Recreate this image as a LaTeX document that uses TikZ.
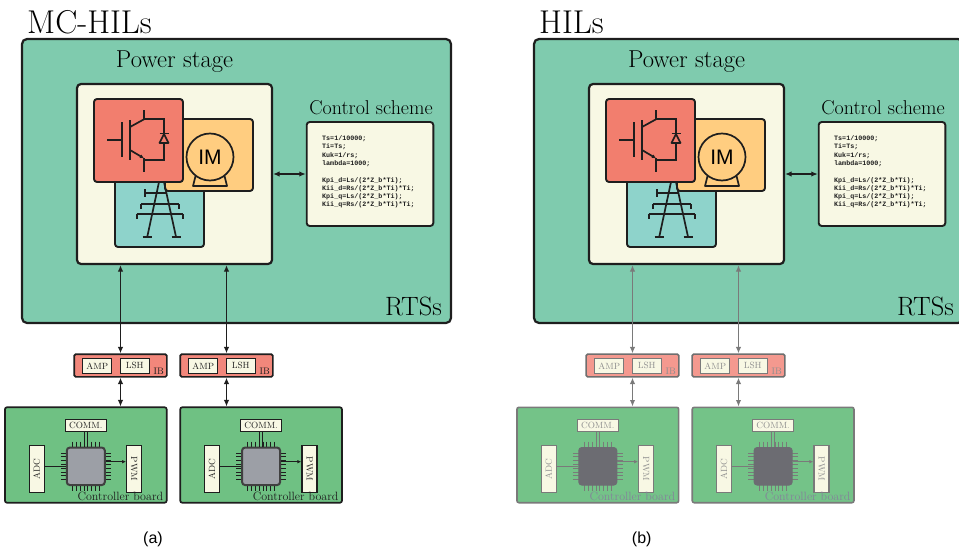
\documentclass[tikz,border=0pt]{standalone}
\usepackage{fontspec}
\usepackage{graphicx}
\usetikzlibrary{arrows.meta}
\newfontfamily\codefont{Liberation Mono}
\newfontfamily\labelfont{Liberation Sans}

\definecolor{ink}{HTML}{1E1E1E}
\definecolor{rtsfill}{HTML}{7FCBAE}
\definecolor{cream}{HTML}{F8F8E4}
\definecolor{igbtred}{HTML}{F27E6E}
\definecolor{motorfill}{HTML}{FFCD80}
\definecolor{gridfill}{HTML}{8ED3CB}
\definecolor{ibfill}{HTML}{F2877B}
\definecolor{boardfill}{HTML}{6FC183}
\definecolor{chipfill}{HTML}{9C9FA6}
\definecolor{ibfade}{HTML}{F4998F}
\definecolor{boardfade}{HTML}{74C388}
\definecolor{chipfade}{HTML}{6C6C72}
\definecolor{greyline}{HTML}{7A7A7A}
\definecolor{greytext}{HTML}{8E8E8E}
\definecolor{captext}{HTML}{84849A}

\tikzset{
  rtsbox/.style={draw=ink, fill=rtsfill, line width=2.2pt, rounded corners=5pt, inner sep=0pt},
  powerbox/.style={draw=ink, fill=cream, line width=2.2pt, rounded corners=4pt, inner sep=0pt},
  iconbox/.style={draw=ink, line width=1.9pt, rounded corners=3pt, inner sep=0pt},
  ctrlbox/.style={draw=ink, fill=cream, line width=1.9pt, rounded corners=3pt, inner sep=0pt},
  symline/.style={draw=ink, line width=1.7pt},
  title/.style={anchor=base west, inner sep=0pt, font=\fontsize{33}{36}\selectfont},
  heading/.style={anchor=base, inner sep=0pt, font=\fontsize{24.5}{28}\selectfont},
  subheading/.style={anchor=base, inner sep=0pt, font=\fontsize{20}{24}\selectfont},
  rtslabel/.style={anchor=base east, inner sep=0pt, font=\fontsize{26.5}{30}\selectfont},
  codetext/.style={anchor=north west, inner sep=0pt, align=left, text=ink,
    font=\fontsize{6.7}{8.3}\selectfont\codefont\bfseries},
  biarrow/.style={draw=ink, line width=1.2pt, {Latex[length=6.5pt,width=5.5pt]}-{Latex[length=6.5pt,width=5.5pt]}},
  % styles of the interface and controller part (changed for the plain HIL panel)
  lowarrow/.style={biarrow},
  ibbox/.style={draw=ink, fill=ibfill, line width=1.7pt, rounded corners=1.5pt, inner sep=0pt},
  tagbox/.style={draw=ink, fill=cream, line width=1.2pt, inner sep=0pt, text=ink,
    font=\fontsize{9}{10}\selectfont},
  ibtext/.style={anchor=base east, inner sep=0pt, text=ink, font=\fontsize{9.5}{10}\selectfont},
  boardbox/.style={draw=ink, fill=boardfill, line width=1.7pt, rounded corners=2pt, inner sep=0pt},
  chipbox/.style={draw=ink!85, fill=chipfill, line width=2pt, rounded corners=3pt, inner sep=0pt},
  chiplead/.style={draw=ink, line width=0.8pt},
  wire/.style={draw=ink, line width=1pt},
  boardtext/.style={anchor=base east, inner sep=0pt, text=ink, font=\fontsize{12}{14}\selectfont},
  captiontext/.style={inner sep=0pt, font=\labelfont\fontsize{16}{18}\selectfont},
}

% one controller board; #1 name, #2 horizontal offset
\newcommand\ctrlboard[2]{%
  \begin{scope}[xshift=#2pt]
    \node[boardbox, minimum width=161.7pt, minimum height=95.4pt] (#1) at (85.8,455) {};
    \node[tagbox, minimum width=41pt, minimum height=12.4pt] (#1comm) at (85.8,425.5) {COMM.};
    \foreach \k in {0,...,7}{
      \draw[chiplead] (72.5+3.8*\k,441.5) -- (72.5+3.8*\k,491);
      \draw[chiplead] (60.8,453+3.8*\k) -- (110.8,453+3.8*\k);
    }
    \node[chipbox, minimum width=38pt, minimum height=37.5pt] (#1chip) at (85.8,466.3) {};
    \draw[wire] ([xshift=-1.8pt]#1comm.south) -- ([xshift=-1.8pt]#1comm.south |- #1chip.north);
    \draw[wire] ([xshift=1.8pt]#1comm.south) -- ([xshift=1.8pt]#1comm.south |- #1chip.north);
    \node[tagbox, minimum width=15pt, minimum height=47pt] (#1adc) at (36.8,469) {\rotatebox{90}{ADC}};
    \node[tagbox, minimum width=15pt, minimum height=47pt] (#1pwm) at (134.2,469) {\rotatebox{-90}{PWM}};
    \draw[wire] (#1chip.west) -- (#1chip.west -| #1adc.east);
    \draw[wire, -{Latex[length=4pt,width=3.5pt]}] ([yshift=4.6pt]#1chip.east) -- ([yshift=4.6pt]#1chip.east -| #1pwm.west);
    \node[boardtext] (#1cap) at (163.3,500.6) {Controller board};
  \end{scope}}

% one interface board; #1 name, #2 horizontal offset
\newcommand\ifboard[2]{%
  \begin{scope}[xshift=#2pt]
    \node[ibbox, minimum width=92.7pt, minimum height=22.7pt] (#1) at (120.5,365.5) {};
    \node[tagbox, minimum width=29pt, minimum height=15pt] (#1amp) at (97.2,365.8) {AMP};
    \node[tagbox, minimum width=29pt, minimum height=15pt] (#1lsh) at (134.7,365.8) {LSH};
    \node[ibtext] (#1tag) at (164,374.5) {IB};
  \end{scope}}

% a complete HIL set-up; #1 prefix of names, #2 title
\newcommand\hilpanel[2]{%
  \node[rtsbox, minimum width=429pt, minimum height=284pt] (#1rts) at (236.5,181) {};
  \node[title] (#1title) at (27,33.3) {#2};
  \node[heading] (#1pshead) at (174.5,67) {Power stage};
  \node[powerbox, minimum width=195pt, minimum height=180pt] (#1power) at (174.5,174) {};
  % grid, motor and converter tiles
  \node[iconbox, fill=gridfill, minimum width=89pt, minimum height=70pt] (#1grid) at (159.5,212) {};
  \node[iconbox, fill=motorfill, minimum width=88pt, minimum height=72pt] (#1motor) at (209,155) {};
  % transmission tower
  \draw[symline, line cap=round] (159,182) -- (147.3,236.7) (164,182) -- (176,236.7);
  \draw[symline] (145,192.7) -- (167,192.7) (145,189) -- (145,197);
  \draw[symline] (141,204) -- (179.3,204) (141,204) -- (141,209) (179.3,204) -- (179.3,209);
  \draw[symline] (136.7,214.3) -- (183.3,214.3) (136.7,214.3) -- (136.7,219) (183.3,214.3) -- (183.3,219);
  \draw[symline] (142.7,237) -- (152,237) (171.7,237) -- (181,237);
  \node[iconbox, fill=igbtred, minimum width=89pt, minimum height=83pt] (#1switch) at (138.5,140.5) {};
  % IGBT with antiparallel diode
  \draw[symline] (107.3,140) -- (122.3,140) (122.3,122) -- (122.3,157);
  \draw[symline] (130,120) -- (130,160);
  \draw[symline] (144,110) -- (144,119.3) -- (130,127);
  \draw[symline, -{Latex[length=4pt,width=4pt]}] (130,150) -- (144,158.3);
  \draw[symline] (144,158) -- (144,171.7);
  \draw[symline] (144,119.3) -- (164,119.3) -- (164,160) -- (144,160);
  \draw[symline, fill=igbtred, line join=round] (164,134) -- (159.5,143) -- (168.5,143) -- cycle;
  \draw[symline] (159.5,133.5) -- (168.5,133.5);
  % induction machine
  \draw[symline, fill=motorfill, line join=round] (195.5,176) -- (193,186) -- (227,186) -- (224.5,176);
  \node[symline, circle, fill=motorfill, minimum size=47pt, inner sep=0pt,
    font=\labelfont\fontsize{21}{21}\selectfont] (#1im) at (210,157) {IM};
  % control algorithm
  \node[subheading] (#1cshead) at (371,114) {Control scheme};
  \node[ctrlbox, minimum width=126.6pt, minimum height=104pt] (#1ctrl) at (370,174) {};
  \node[codetext] (#1code) at (322,135.5) {Ts=1/10000;\\Ti=Ts;\\Kuk=1/rs;\\lambda=1000;\\[8.3pt]%
    Kpi\_d=Ls/(2*Z\_b*Ti);\\Kii\_d=Rs/(2*Z\_b*Ti)*Ti;\\Kpi\_q=Ls/(2*Z\_b*Ti);\\Kii\_q=Rs/(2*Z\_b*Ti)*Ti;};
  \draw[biarrow] (#1power.east) -- (#1ctrl.west);
  \node[rtslabel] (#1rtstag) at (442,315) {RTSs};
  % interface boards and controllers
  \ifboard{#1ib1}{0}
  \ifboard{#1ib2}{106}
  \ctrlboard{#1cb1}{0}
  \ctrlboard{#1cb2}{175.3}
  \draw[lowarrow] (#1ib1.north |- #1power.south) -- (#1ib1.north);
  \draw[lowarrow] (#1ib2.north |- #1power.south) -- (#1ib2.north);
  \draw[lowarrow] (#1ib1.south) -- (#1ib1.south |- #1cb1.north);
  \draw[lowarrow] (#1ib2.south) -- (#1ib2.south |- #1cb2.north);
}

\begin{document}
\begin{tikzpicture}[x=1pt, y=-1pt]
  \useasboundingbox (0,0) rectangle (959,551);
  \clip (0,0) rectangle (959,551);

  \begin{scope}
    \hilpanel{mc}{MC-HILs}
  \end{scope}

  \begin{scope}[xshift=512pt]
    \tikzset{
      lowarrow/.style={draw=greyline, line width=1.2pt,
        {Latex[length=6.5pt,width=5.5pt]}-{Latex[length=6.5pt,width=5.5pt]}},
      ibbox/.style={draw=greyline!90!black, fill=ibfade, line width=1.6pt, rounded corners=1.5pt, inner sep=0pt},
      tagbox/.style={draw=greyline, fill=cream, line width=1.2pt, inner sep=0pt, text=greytext,
        font=\fontsize{9}{10}\selectfont},
      ibtext/.style={anchor=base east, inner sep=0pt, text=greytext, font=\fontsize{9.5}{10}\selectfont},
      boardbox/.style={draw=greyline, fill=boardfade, line width=1.6pt, rounded corners=2pt, inner sep=0pt},
      chipbox/.style={draw=chipfade, fill=chipfade, line width=1pt, rounded corners=3pt, inner sep=0pt},
      chiplead/.style={draw=greyline, line width=0.8pt},
      wire/.style={draw=greyline, line width=1pt},
      boardtext/.style={anchor=base east, inner sep=0pt, text=captext, font=\fontsize{12}{14}\selectfont},
    }
    \hilpanel{hil}{HILs}
  \end{scope}

  \node[captiontext] (capa) at (153,539) {(a)};
  \node[captiontext] (capb) at (641.7,539) {(b)};
\end{tikzpicture}
\end{document}
